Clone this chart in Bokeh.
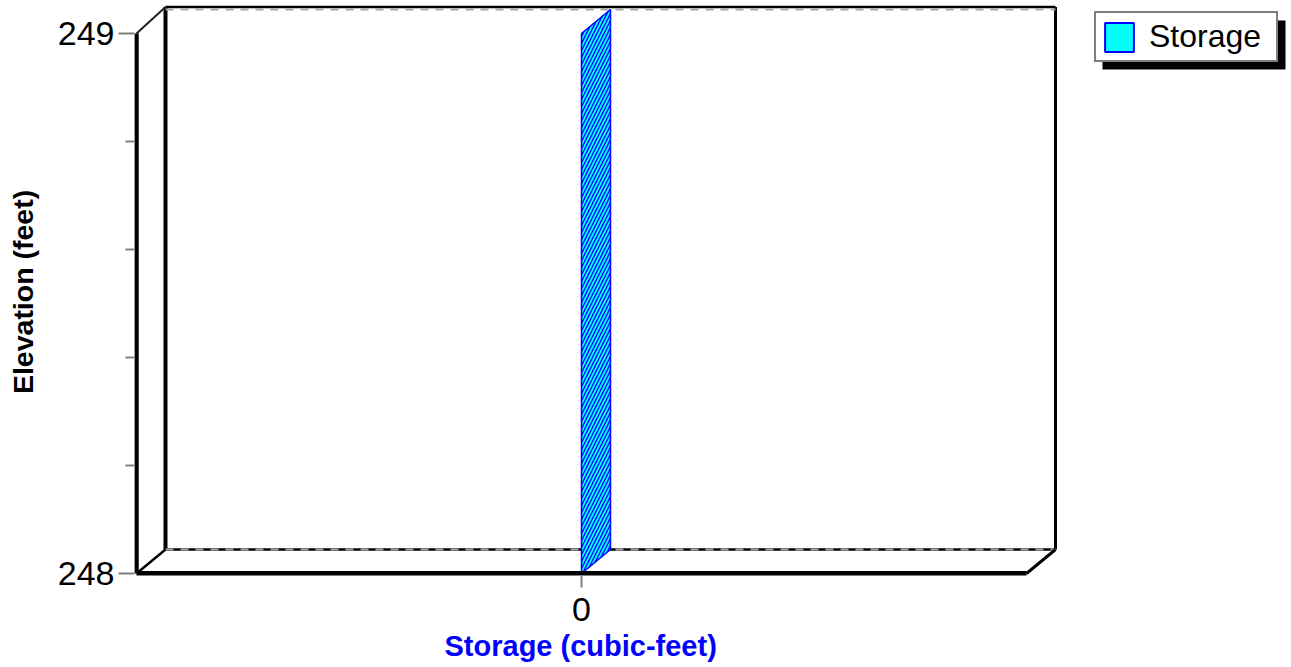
from bokeh.plotting import figure
from bokeh.models import Range1d, FixedTicker, Legend, LegendItem, Title, ColumnDataSource
from bokeh.embed import file_html
from bokeh.resources import INLINE

# ---------------- data ----------------
storage = [0.0, 0.0]            # cubic-feet
elevation = [248.0, 249.0]      # feet
series_name = "Storage"
x_ticks = [0]
x_tick_labels = ["0"]
y_ticks = [248, 249]
y_tick_labels = ["248", "249"]
y_minor_ticks = [248.2, 248.4, 248.6, 248.8]
x_extent = [-1.0, 1.0]

# ---------------- layout (canvas px) ----------------
W, H = 1291, 667
FRAME_L, FRAME_T, FRAME_B = 134, 0, 575
XA0, XA1 = 136, 1026          # pixel of x_extent[0], x_extent[1]
YA0, YA1 = 573, 33            # pixel of min / max elevation
DEPTH_X, DEPTH_Y = 29, 24     # 3-D depth offset in px
TOP_PAD = 2.5                 # back-wall top edge above top gridline (px)

Y0, Y1 = min(elevation), max(elevation)
X0, X1 = x_extent
pxu_x = (XA1 - XA0) / (X1 - X0)
pxu_y = (YA0 - YA1) / (Y1 - Y0)
x_start = X0 - (XA0 - FRAME_L) / pxu_x
x_end = X0 + (W - XA0) / pxu_x
y_start = Y0 - (FRAME_B - YA0) / pxu_y
y_end = Y1 + (YA1 - FRAME_T) / pxu_y
DX = DEPTH_X / pxu_x
DY = DEPTH_Y / pxu_y
TP = TOP_PAD / pxu_y


def xd(px):  # canvas px -> data x
    return X0 + (px - XA0) / pxu_x


def yd(py):  # canvas px -> data y
    return Y0 + (YA0 - py) / pxu_y


FONT = "Liberation Sans"

p = figure(width=W, height=H, title=None,
           x_range=Range1d(x_start, x_end), y_range=Range1d(y_start, y_end),
           min_border_left=FRAME_L, min_border_right=0, min_border_top=FRAME_T,
           min_border_bottom=H - FRAME_B,
           output_backend="svg", toolbar_location=None)
p.xgrid.visible = False
p.ygrid.visible = False
p.outline_line_color = None
p.background_fill_color = "white"
p.border_fill_color = "white"


def seg(x0, y0, x1, y1, width, color="black", dash="solid"):
    src = ColumnDataSource(dict(x0=[x0], y0=[y0], x1=[x1], y1=[y1]))
    p.segment("x0", "y0", "x1", "y1", source=src, line_color=color,
              line_width=width, line_dash=dash, line_cap="butt")


# back wall
seg(X0 + DX, Y1 + DY + TP, X1 + DX, Y1 + DY + TP, 2.5)
seg(X0 + DX, Y0 + DY, X1 + DX, Y0 + DY, 2.5)
seg(X0 + DX, Y0 + DY, X0 + DX, Y1 + DY + TP, 4)
seg(X1 + DX, Y0 + DY, X1 + DX, Y1 + DY + TP, 3)
for yt in y_ticks:
    seg(X0 + DX, yt + DY, X1 + DX, yt + DY, 2, "#A8A8A8", "8 7")
# depth edges
seg(X0, Y1, X0 + DX, Y1 + DY + TP, 2, "#202020")
seg(X0, Y0, X0 + DX, Y0 + DY, 2.5)
seg(X1, Y0, X1 + DX, Y0 + DY, 3)

# series ribbon (storage curve extruded in depth)
rib_x = storage + [s + DX for s in storage[::-1]]
rib_y = elevation + [e + DY for e in elevation[::-1]]
p.patch(rib_x, rib_y, fill_color="#0000FF", line_color="#0000FF", line_width=1.5,
        hatch_pattern="/", hatch_color="#00FFFF", hatch_scale=7, hatch_weight=1.8)

# front edges
seg(X0, Y0, X0, Y1, 4.5)
seg(X0, Y0, X1, Y0, 5)

# legend shadow
p.quad(left=[xd(1102)], right=[xd(1285)], top=[yd(20)], bottom=[yd(69)],
       fill_color="black", line_color=None)

# legend swatch renderer (hidden copy of the series, drawn only in the legend)
sw = p.patch(rib_x, rib_y, fill_color="#00FFFF", line_color="#0000FF",
             line_width=2, visible=False)
legend = Legend(items=[LegendItem(label=series_name, renderers=[sw])],
                location=(1094 - FRAME_L, FRAME_B - 62), margin=0, padding=5,
                spacing=0, glyph_width=36, glyph_height=36, label_height=36,
                label_standoff=12, label_width=122,
                label_text_font=FONT, label_text_font_size="32px",
                label_text_color="black",
                border_line_color="black", border_line_width=2,
                background_fill_color="white", background_fill_alpha=1.0,
                click_policy="none")
p.add_layout(legend)

# y axis
ya = p.yaxis[0]
ya.ticker = FixedTicker(ticks=y_ticks, minor_ticks=y_minor_ticks)
ya.major_label_overrides = {t: l for t, l in zip(y_ticks, y_tick_labels)}
ya.axis_line_color = None
ya.major_tick_line_color = "#808080"
ya.major_tick_line_width = 2
ya.major_tick_in = 0
ya.major_tick_out = 16
ya.minor_tick_line_color = "#808080"
ya.minor_tick_line_width = 2
ya.minor_tick_in = 0
ya.minor_tick_out = 9
ya.major_label_standoff = 4
ya.major_label_text_font = FONT
ya.major_label_text_font_size = "34px"
ya.major_label_text_color = "black"
ya.axis_label = "Elevation  (feet)"
ya.axis_label_standoff = 16
ya.axis_label_text_font = FONT
ya.axis_label_text_font_size = "28.5px"
ya.axis_label_text_font_style = "bold"
ya.axis_label_text_color = "black"

# x axis
xa = p.xaxis[0]
xa.ticker = FixedTicker(ticks=x_ticks)
xa.major_label_overrides = {t: l for t, l in zip(x_ticks, x_tick_labels)}
xa.axis_line_color = None
xa.major_tick_line_color = "#808080"
xa.major_tick_line_width = 2
xa.major_tick_in = 0
xa.major_tick_out = 12
xa.minor_tick_line_color = None
xa.major_label_standoff = 10
xa.major_label_text_font = FONT
xa.major_label_text_font_size = "34px"
xa.major_label_text_color = "black"

xt = Title(text="Storage (cubic-feet)", align="left", offset=310, standoff=8,
           text_font=FONT, text_font_size="29px", text_font_style="bold",
           text_color="#0000FF")
p.add_layout(xt, "below")

open("out.html", "w").write(file_html(p, INLINE))
